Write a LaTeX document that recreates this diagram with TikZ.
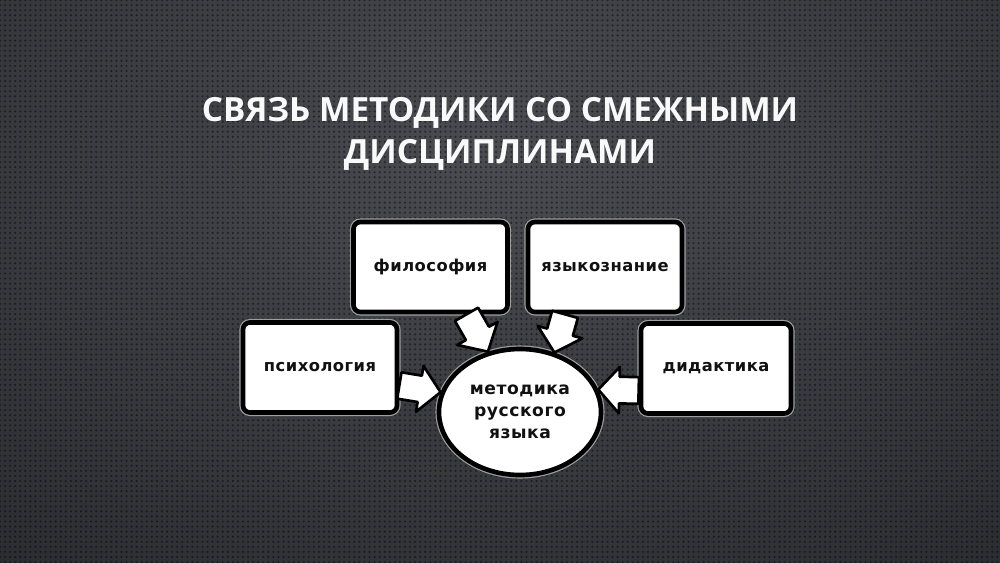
\documentclass[tikz,border=0pt]{standalone}
\usepackage{fontspec}
\newfontfamily\titlefont{Open Sans}
\newfontfamily\boxfont[LetterSpace=3]{DejaVu Sans}
\usetikzlibrary{shapes.geometric,calc,patterns.meta}
\definecolor{bgA}{HTML}{4A4C51}
\definecolor{bgB}{HTML}{25272B}
\definecolor{ink}{HTML}{111111}
\tikzset{
  titlestyle/.style={text=white!95!gray, inner sep=0pt, anchor=base,
    font=\titlefont\bfseries\fontsize{23.7}{28}\selectfont},
  box/.style={draw=black, line width=3.3pt, fill=white, rounded corners=5pt,
    minimum width=3.85cm, minimum height=2.25cm, inner sep=0pt, text=ink,
    font=\boxfont\bfseries\fontsize{11.6}{13}\selectfont,
    preaction={draw=gray!75, line width=5pt}},
  center/.style={ellipse, draw=black, line width=3.3pt, fill=white,
    minimum width=4.05cm, minimum height=3.15cm, inner sep=0pt, text=ink,
    align=center, font=\boxfont\bfseries\fontsize{12.2}{15.6}\selectfont,
    preaction={draw=gray!75, line width=5pt}},
  arrowbody/.style={draw=black, fill=white, line width=1.9pt, line join=round}
}
\newcommand\fatarrow[2]{%
  \pgfpointdiff{\pgfpointanchor{#1}{center}}{\pgfpointanchor{#2}{center}}%
  \pgfgetlastxy{\fax}{\fay}%
  \pgfmathsetmacro\faang{atan2(\fay,\fax)}%
  \pgfmathsetmacro\falen{veclen(\fax,\fay)}%
  \begin{scope}[shift={(#1)}, rotate=\faang]
    \draw[arrowbody] (0pt,-9.5pt) -- ({\falen pt-15pt},-9.5pt) -- ({\falen pt-15pt},-16.5pt)
      -- (\falen pt,0pt) -- ({\falen pt-15pt},16.5pt) -- ({\falen pt-15pt},9.5pt) -- (0pt,9.5pt) -- cycle;
  \end{scope}}
\begin{document}
\begin{tikzpicture}[x=0.025cm,y=-0.025cm]
\useasboundingbox (0,0) rectangle (1000,562);
\fill[bgB] (0,0) rectangle (1000,562);
\begin{scope}
  \clip (0,0) rectangle (1000,562);
  \shade[inner color=bgA, outer color=bgB] (500,150) ellipse (950 and 620);
\end{scope}
\fill[pattern={Dots[distance=3.6pt, radius=0.85pt]}, pattern color=black, fill opacity=0.45] (0,0) rectangle (1000,562);

\node[titlestyle] (t1) at (500,121) {СВЯЗЬ МЕТОДИКИ СО СМЕЖНЫМИ};
\node[titlestyle] (t2) at (500,163) {ДИСЦИПЛИНАМИ};

\node[box] (fil) at (430.5,267) {философия};
\node[box] (yaz) at (605,267) {языкознание};
\node[box] (ps) at (320,367.5) {психология};
\node[box, minimum width=3.75cm] (did) at (716,368.5) {дидактика};
\node[center] (met) at (520,412) {методика\\русского\\языка};

\coordinate (a1s) at ($(fil.south)+(36,0)$);
\coordinate (a1e) at (met.118);
\coordinate (a2s) at ($(yaz.south)+(-40,0)$);
\coordinate (a2e) at (met.60);
\coordinate (a3s) at ($(ps.east)+(0,18)$);
\coordinate (a3e) at (met.166);
\coordinate (a4s) at ($(did.west)+(0,22)$);
\coordinate (a4e) at (met.16);
\fatarrow{a1s}{a1e}
\fatarrow{a2s}{a2e}
\fatarrow{a3s}{a3e}
\fatarrow{a4s}{a4e}
\end{tikzpicture}
\end{document}
